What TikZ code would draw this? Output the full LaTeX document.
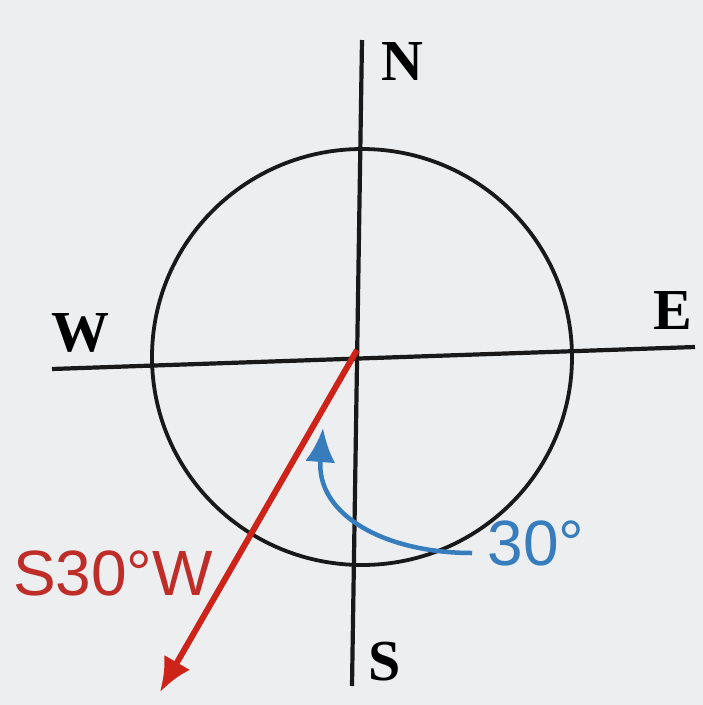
\documentclass[tikz,border=0pt]{standalone}
\usepackage{fontspec}
\setmainfont{Liberation Serif}
\setsansfont{Liberation Sans}
\usetikzlibrary{arrows.meta}
\definecolor{bg}{RGB}{236,238,240}
\definecolor{redline}{RGB}{205,35,25}
\definecolor{redtext}{RGB}{190,45,40}
\definecolor{bluearc}{RGB}{55,125,190}
\tikzset{
  axis/.style={line width=4.2pt, black!90},
  dir/.style={font=\bfseries\fontsize{58}{58}\selectfont, inner sep=0pt},
  lab/.style={font=\sffamily\fontsize{64}{64}\selectfont, inner sep=0pt}
}
\begin{document}
\begin{tikzpicture}[x=1pt,y=-1pt]
\fill[bg] (0,0) rectangle (703,705);
\useasboundingbox (0,0) rectangle (703,705);
\coordinate (O) at (357,350);
\coordinate (Ntop) at (362,40);
\coordinate (Sbot) at (352,686);
\coordinate (Wend) at (52,369);
\coordinate (Eend) at (695,347);
\coordinate (C) at (362,357);
\coordinate (tip) at (160,692);
\coordinate (arcA) at (472,553);
\coordinate (arcB) at (323,428);
\draw[axis] (Ntop) -- (Sbot);
\draw[axis] (Wend) -- (Eend);
\draw[line width=3.8pt, black!90] (C) circle[x radius=210, y radius=208];
\draw[line width=6pt, redline, -{Latex[length=34pt,width=30pt]}] (O) -- (tip);
\draw[line width=4.5pt, bluearc, -{Latex[length=34pt,width=30pt]}] (arcA) .. controls (385,553) and (316,515) .. (arcB);
\node[dir] (N) at (402,62) {N};
\node[dir] (E) at (673,311) {E};
\node[dir] (W) at (80,333) {W};
\node[dir] (S) at (385,662) {S};
\node[lab, text=redtext] (s30w) at (113,573) {S30°W};
\node[lab, text=bluearc] (deg) at (536,543) {30°};
\end{tikzpicture}
\end{document}
